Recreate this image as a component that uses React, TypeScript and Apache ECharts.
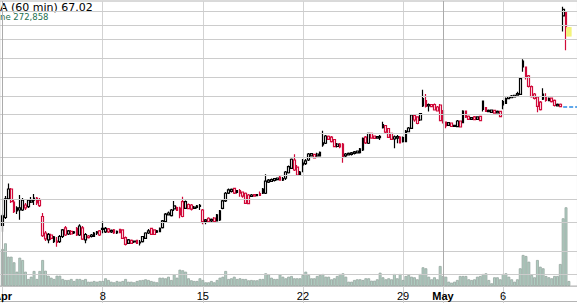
import React, { useEffect, useRef } from 'react';
import * as echarts from 'echarts';

// trading days and hourly bars (60 min)
const days = ['Apr 1', 'Apr 2', 'Apr 3', 'Apr 4', 'Apr 5', 'Apr 8', 'Apr 9', 'Apr 10', 'Apr 11', 'Apr 12',
  'Apr 15', 'Apr 16', 'Apr 17', 'Apr 18', 'Apr 19', 'Apr 22', 'Apr 23', 'Apr 24', 'Apr 25', 'Apr 26',
  'Apr 29', 'Apr 30', 'May 1', 'May 2', 'May 3', 'May 6', 'May 7', 'May 8', 'May 9'];
const hours = ['9:30', '10:30', '11:30', '12:30', '13:30', '14:30', '15:30'];
const leadCategory = 'Mar 28 15:30';
const categoryCount = 203;

// x axis tick labels
const tickDays = ['Apr 1', 'Apr 8', 'Apr 15', 'Apr 22', 'Apr 29', 'May 1', 'May 6'];
const tickTexts = ['Apr', '8', '15', '22', '29', 'May', '6'];
const monthDays = ['Apr 1', 'May 1'];

// price grid levels (log scale)
const gridValues = [34, 36, 38, 40, 42, 44, 46, 48, 50, 52, 54, 56, 58, 60];
const priceAxisMin = 33.28;
const priceAxisMax = 61.08;
const volumeAxisMax = 15532; // thousands

// OHLC, one line per day
const opens = [
  37.86, 38.51, 40.06, 40.92, 39.80, 39.30, 39.13,
  39.13, 39.55, 39.41, 39.80, 39.97, 40.14, 39.97,
  38.59, 37.26, 36.71, 37.10, 36.58, 36.52, 36.58,
  36.98, 37.66, 37.18, 37.38, 37.26, 37.63, 37.10,
  37.66, 36.71, 36.89, 36.98, 36.98, 37.24, 37.42,
  37.54, 37.34, 37.58, 37.34, 37.50, 37.26, 37.54,
  37.50, 36.89, 36.45, 36.67, 36.55, 36.67, 36.48,
  36.58, 36.84, 37.26, 37.62, 37.50, 37.32, 37.36,
  37.69, 38.18, 38.72, 38.67, 39.22, 39.34, 39.28,
  39.83, 39.27, 39.59, 39.55, 39.27, 39.34, 39.43,
  39.13, 38.19, 38.45, 38.23, 38.47, 38.23, 38.31,
  39.27, 39.89, 40.57, 40.71, 40.97, 40.62, 40.79,
  40.66, 40.55, 40.40, 40.27, 40.44, 40.34, 40.53,
  40.92, 40.55, 41.53, 41.58, 41.67, 41.75, 41.98,
  41.71, 41.87, 42.36, 42.76, 43.53, 42.88, 42.16,
  43.07, 43.20, 43.53, 43.91, 44.05, 43.91, 43.91,
  44.94, 45.11, 45.79, 45.71, 45.47, 44.80, 45.04,
  45.04, 43.91, 44.00, 44.05, 44.14, 44.19, 44.21,
  44.47, 45.71, 45.11, 46.06, 45.81, 45.61, 45.66,
  46.63, 46.85, 46.55, 46.06, 45.52, 45.61, 45.71,
  45.66, 45.26, 46.23, 46.57, 47.86, 47.71, 47.40,
  48.84, 49.41, 48.84, 48.99, 48.99, 48.73, 48.94,
  48.37, 47.20, 46.87, 47.10, 46.75, 46.73, 47.30,
  47.13, 48.32, 47.78, 47.47, 47.71, 47.47, 47.76,
  49.36, 48.68, 48.26, 48.18, 48.39, 48.13, 48.29,
  49.29, 49.11, 49.61, 49.70, 49.78, 49.99, 50.06,
  53.75, 53.06, 52.09, 50.90, 50.10, 49.78, 49.25,
  50.10, 49.74, 49.39, 49.66, 49.43, 48.84, 49.02,
  60.01, 59.59, 57.62,
];
const highs = [
  38.82, 40.31, 41.41, 41.00, 39.97, 39.45, 40.40,
  40.14, 39.72, 40.06, 40.23, 40.48, 40.23, 40.14,
  38.88, 37.42, 37.26, 37.20, 37.02, 36.94, 37.10,
  37.58, 37.82, 37.50, 37.50, 37.42, 37.74, 37.96,
  37.82, 37.26, 37.10, 37.18, 37.34, 37.42, 37.50,
  38.18, 37.74, 37.66, 37.54, 37.58, 37.46, 37.58,
  37.54, 36.98, 36.79, 36.75, 36.67, 36.71, 36.71,
  37.02, 37.32, 37.58, 37.66, 37.54, 37.50, 37.70,
  38.31, 38.88, 39.01, 39.22, 39.88, 39.43, 39.41,
  40.26, 39.93, 39.68, 39.63, 39.47, 39.55, 39.63,
  39.22, 38.39, 38.52, 38.43, 38.55, 38.80, 39.13,
  39.97, 40.66, 40.97, 40.97, 41.00, 40.84, 40.92,
  40.71, 40.62, 40.48, 40.48, 40.48, 40.48, 40.71,
  41.00, 42.22, 41.80, 41.84, 41.89, 41.93, 42.11,
  41.98, 42.52, 43.02, 43.67, 44.07, 43.07, 42.52,
  43.62, 43.62, 44.19, 44.14, 44.09, 44.21, 44.33,
  46.33, 45.91, 45.86, 45.81, 45.52, 45.14, 45.14,
  45.14, 44.19, 44.23, 44.28, 44.37, 44.42, 44.66,
  45.67, 45.81, 46.14, 46.11, 45.86, 45.81, 45.91,
  47.22, 46.90, 46.60, 46.11, 45.86, 45.91, 45.81,
  45.76, 46.40, 46.70, 48.01, 47.96, 47.76, 48.11,
  50.56, 50.10, 49.10, 49.05, 49.10, 48.84, 49.05,
  48.42, 47.25, 47.20, 47.15, 46.90, 47.40, 47.35,
  48.39, 48.37, 47.86, 47.71, 47.81, 47.76, 47.81,
  49.41, 48.73, 48.47, 48.47, 48.44, 48.37, 48.35,
  49.46, 49.72, 49.88, 49.99, 50.01, 50.34, 51.84,
  53.94, 53.11, 52.17, 51.01, 50.21, 49.88, 49.36,
  50.72, 50.18, 49.72, 49.73, 49.51, 49.10, 49.10,
  60.35, 59.72, 57.67,
];
const lows = [
  37.36, 38.39, 39.97, 39.72, 38.88, 38.80, 38.33,
  39.05, 39.13, 39.30, 39.72, 39.55, 39.55, 39.38,
  36.94, 36.63, 36.45, 36.71, 36.48, 36.19, 36.48,
  36.86, 37.02, 37.10, 37.10, 37.18, 37.02, 37.02,
  36.71, 36.45, 36.83, 36.90, 36.94, 37.10, 37.02,
  37.24, 37.26, 37.26, 37.26, 37.18, 37.18, 37.24,
  36.79, 36.27, 36.40, 36.40, 36.48, 36.40, 36.27,
  36.52, 36.79, 37.18, 37.10, 37.10, 37.26, 37.32,
  37.62, 38.11, 38.68, 38.60, 39.05, 39.05, 38.45,
  38.52, 39.22, 39.20, 39.09, 39.22, 39.26, 39.13,
  37.96, 37.96, 38.11, 38.15, 38.15, 38.18, 38.23,
  39.20, 39.80, 40.48, 40.62, 40.48, 40.53, 40.26,
  40.16, 39.63, 39.63, 40.23, 40.27, 40.31, 40.31,
  40.48, 40.48, 41.45, 41.53, 41.58, 41.67, 41.67,
  41.62, 41.71, 42.30, 42.70, 42.52, 42.07, 42.07,
  42.40, 43.07, 43.44, 43.86, 43.67, 43.84, 43.86,
  44.78, 45.04, 45.42, 45.18, 44.72, 44.70, 44.63,
  43.28, 43.81, 43.95, 43.95, 44.05, 44.14, 44.14,
  44.37, 45.04, 45.04, 45.57, 45.55, 45.57, 45.42,
  46.55, 46.07, 45.61, 45.42, 44.63, 45.11, 45.09,
  45.18, 45.23, 46.20, 46.50, 47.23, 46.97, 47.30,
  48.73, 48.68, 48.26, 48.71, 48.37, 48.27, 47.30,
  47.06, 46.57, 46.80, 46.70, 46.70, 46.70, 46.65,
  47.10, 47.61, 47.40, 47.40, 47.40, 47.40, 47.30,
  48.26, 48.22, 48.18, 48.13, 48.05, 48.08, 47.71,
  48.49, 49.05, 49.56, 49.66, 49.75, 49.94, 49.99,
  52.53, 51.68, 50.80, 49.74, 49.51, 48.18, 48.37,
  49.46, 49.29, 49.36, 49.20, 48.79, 48.79, 48.72,
  57.25, 54.99, 56.73,
];
const closes = [
  38.65, 40.06, 40.92, 39.83, 38.99, 39.05, 39.30,
  39.97, 39.30, 39.97, 39.97, 40.14, 39.72, 39.49,
  37.04, 36.79, 37.15, 36.84, 36.96, 36.63, 36.98,
  37.50, 37.10, 37.42, 37.18, 37.34, 37.10, 37.82,
  36.77, 37.14, 37.02, 37.10, 37.26, 37.34, 37.10,
  37.62, 37.63, 37.34, 37.46, 37.26, 37.38, 37.29,
  36.84, 36.37, 36.71, 36.45, 36.62, 36.45, 36.55,
  36.98, 37.26, 37.42, 37.15, 37.14, 37.42, 37.63,
  38.23, 38.78, 38.88, 39.13, 39.47, 39.09, 38.72,
  38.59, 39.83, 39.24, 39.20, 39.38, 39.47, 39.51,
  38.18, 38.31, 38.18, 38.35, 38.18, 38.72, 39.05,
  39.89, 40.55, 40.84, 40.88, 40.57, 40.79, 40.57,
  40.31, 39.69, 39.67, 40.40, 40.31, 40.44, 40.36,
  40.55, 41.62, 41.71, 41.75, 41.84, 41.89, 41.71,
  41.84, 42.43, 42.91, 43.60, 42.61, 42.16, 42.43,
  43.25, 43.44, 44.09, 44.12, 43.72, 44.09, 44.25,
  45.14, 45.81, 45.49, 45.26, 44.78, 45.04, 44.75,
  43.84, 44.09, 44.14, 44.19, 44.28, 44.37, 44.58,
  45.59, 45.14, 46.06, 45.61, 45.59, 45.76, 45.78,
  46.95, 46.20, 45.68, 45.49, 45.74, 45.76, 45.14,
  45.26, 46.30, 46.60, 47.91, 47.40, 47.05, 48.06,
  49.61, 48.79, 48.99, 48.77, 48.42, 48.32, 47.33,
  47.23, 46.80, 47.13, 46.75, 46.87, 47.30, 46.70,
  48.32, 47.68, 47.47, 47.64, 47.43, 47.71, 47.33,
  48.49, 48.27, 48.39, 48.42, 48.10, 48.29, 47.74,
  48.94, 49.61, 49.83, 49.89, 49.97, 50.15, 51.78,
  53.09, 51.97, 50.92, 49.82, 49.63, 48.79, 48.47,
  49.56, 49.41, 49.63, 49.30, 48.89, 49.01, 48.77,
  59.17, 57.64, 57.66,
];
// volume, thousands of shares
const volumes = [
  2017, 2327, 1597, 1597, 1292, 779, 1542,
  1417, 779, 382, 507, 818, 382, 818,
  1417, 834, 561, 452, 382, 561, 561,
  382, 327, 327, 382, 273, 382, 382,
  327, 382, 234, 234, 273, 234, 273,
  273, 420, 327, 234, 202, 273, 234,
  273, 382, 234, 234, 202, 273, 311,
  327, 365, 327, 273, 234, 202, 452,
  452, 420, 507, 327, 638, 452, 888,
  856, 779, 420, 311, 273, 273, 420,
  327, 202, 202, 273, 202, 327, 452,
  507, 818, 382, 420, 507, 382, 420,
  382, 382, 311, 327, 311, 311, 382,
  382, 692, 638, 452, 382, 382, 638,
  507, 420, 507, 545, 420, 420, 420,
  600, 779, 600, 420, 420, 545, 600,
  654, 507, 507, 365, 420, 545, 654,
  692, 507, 234, 234, 327, 365, 365,
  327, 420, 420, 289, 289, 365, 725,
  474, 365, 420, 365, 654, 420, 654,
  327, 545, 600, 507, 474, 365, 654,
  1019, 965, 507, 365, 474, 365, 1090,
  545, 507, 234, 180, 234, 327, 545,
  545, 545, 365, 327, 365, 507, 545,
  654, 692, 327, 147, 474, 474, 365,
  654, 692, 507, 365, 234, 365, 965,
  1690, 1635, 1324, 600, 474, 1417, 1052,
  965, 545, 474, 420, 545, 545, 1199,
  3690, 4289, 272.858,
];

const RED = '#d00a3a';
const BLACK = '#000000';

export default function App() {
  const ref = useRef<HTMLDivElement>(null);

  useEffect(() => {
    if (!ref.current) return;
    const chart = echarts.init(ref.current, undefined, { renderer: 'svg' });

    const categories = [leadCategory]
      .concat(days.flatMap((d) => hours.map((h) => `${d} ${h}`)))
      .slice(0, categoryCount);
    const tickMap: Record<string, string> = {};
    tickDays.forEach((d, k) => { tickMap[`${d} ${hours[0]}`] = tickTexts[k]; });
    const monthSet = new Set(monthDays.map((d) => `${d} ${hours[0]}`));

    const candleData = opens.map((o, i) => {
      const c = closes[i];
      const prev = i > 0 ? closes[i - 1] : o - 1;
      const col = c >= prev ? BLACK : RED;
      return {
        value: [i + 1, Math.log(o), Math.log(c), Math.log(lows[i]), Math.log(highs[i])],
        itemStyle: { color: '#ffffff', color0: col, borderColor: col, borderColor0: col },
      };
    });
    const volData = categories.map((_, k) => (k >= 1 && k <= volumes.length ? volumes[k - 1] : '-'));

    const last = opens.length - 1;
    const prevClose = closes[last - 3];
    const lastCat = categories[last + 1];

    const option: any = {
      animation: false,
      backgroundColor: '#ffffff',
      grid: {
        left: -0.26, top: 1, width: 577.72, height: 285,
        outerBoundsMode: 'none', containLabel: false,
        show: true, borderColor: '#b4b4b4', borderWidth: 1, backgroundColor: 'transparent',
      },
      xAxis: {
        type: 'category',
        data: categories,
        boundaryGap: false,
        axisLine: { show: true, lineStyle: { color: '#c4c4c4', width: 1 } },
        axisTick: {
          show: true, length: 17, interval: (_i: number, v: string) => v in tickMap,
          lineStyle: { color: '#d0d0d0', width: 1 },
        },
        axisLabel: {
          show: true, interval: (_i: number, v: string) => v in tickMap,
          formatter: (v: string) => (monthSet.has(v) ? `{b|${tickMap[v]}}` : tickMap[v] || ''),
          margin: 4, color: '#000', fontFamily: 'Liberation Sans', fontSize: 11,
          hideOverlap: false,
          rich: { b: { fontWeight: 'bold', fontFamily: 'Liberation Sans', fontSize: 11, color: '#000' } },
        },
        splitLine: {
          show: true, interval: (_i: number, v: string) => v in tickMap,
          lineStyle: { color: '#d3d3d3', width: 1 },
        },
      },
      yAxis: [
        { type: 'value', min: Math.log(priceAxisMin), max: Math.log(priceAxisMax), show: false, splitLine: { show: false } },
        { type: 'value', min: 0, max: volumeAxisMax, show: false, splitLine: { show: false } },
      ],
      graphic: [
        { type: 'text', x: 0, y: 7, style: { text: 'A (60 min) 67.02', align: 'left', verticalAlign: 'middle', textAlign: 'left', textVerticalAlign: 'middle', font: '11px "DejaVu Sans"', fill: '#000' } },
        { type: 'text', x: 0, y: 17, style: { text: 'ne 272,858', align: 'left', verticalAlign: 'middle', textAlign: 'left', textVerticalAlign: 'middle', font: '8.5px "DejaVu Sans"', fill: '#24704f' } },
        { type: 'line', shape: { x1: 0, y1: 301.5, x2: 577, y2: 301.5 }, style: { stroke: '#b4b4b4', lineWidth: 1 } },
      ],
      series: [
        {
          type: 'line', data: categories.map(() => '-'), z: 1, silent: true, yAxisIndex: 0,
          markLine: {
            silent: true, symbol: ['none', 'none'], label: { show: false }, animation: false,
            data: [
              ...gridValues.map((v) => ({ yAxis: Math.log(v), lineStyle: { color: '#cccccc', width: 1, type: 'solid' } })),
              ...Array.from(monthSet).map((c) => ({ xAxis: c, lineStyle: { color: '#ababab', width: 1, type: 'solid' } })),
              [
                { coord: [categories[last - 1], Math.log(prevClose)], lineStyle: { color: '#2a8be3', width: 1.5, type: [4, 2] } },
                { coord: [categories[categories.length - 1], Math.log(prevClose)] },
              ],
            ],
          },
          markPoint: {
            silent: true, animation: false, label: { show: false },
            data: [{
              coord: [lastCat, (Math.log(highs[last]) + Math.log(lows[last])) / 2],
              symbol: 'rect', symbolSize: [5.5, 9.5], itemStyle: { color: '#f3f37a' },
            }],
          },
        },
        {
          type: 'bar', data: volData, yAxisIndex: 1, z: 2, silent: true, clip: false,
          barCategoryGap: '0%', barWidth: 2.86,
          itemStyle: { color: '#afcdc1', borderColor: '#97a6a0', borderWidth: 0.8 },
        },
        {
          type: 'candlestick', data: candleData, yAxisIndex: 0, z: 3, silent: true, clip: false,
          encode: { x: 0, y: [1, 2, 3, 4] },
          barWidth: 2.2,
          itemStyle: { borderWidth: 1.2 },
        },
      ],
    };
    chart.setOption(option);
    return () => chart.dispose();
  }, []);

  return <div ref={ref} style={{ position: 'fixed', left: 0, top: 0, width: 577, height: 303 }} />;
}
